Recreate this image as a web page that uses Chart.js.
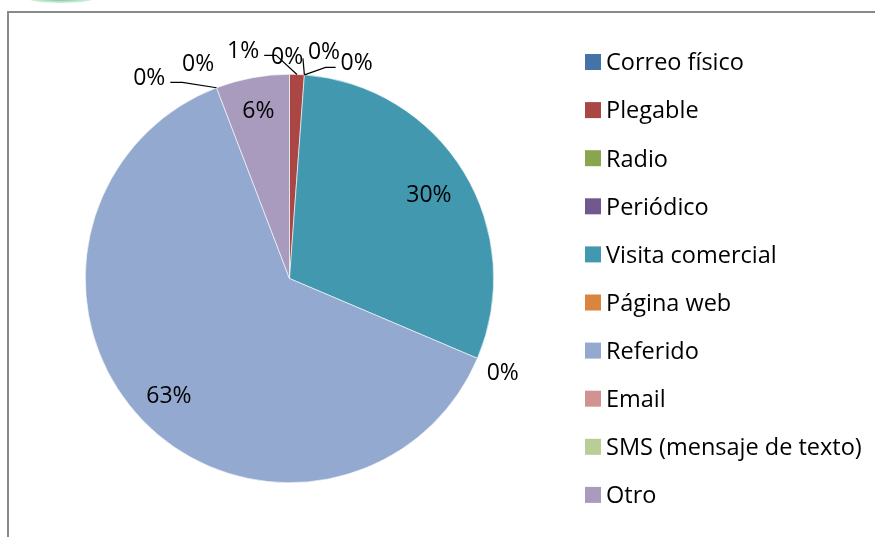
<!DOCTYPE html>
<html lang="es">
<head>
<meta charset="utf-8">
<title>Medio de contacto</title>
<script src="https://cdn.jsdelivr.net/npm/chart.js@4.4.1/dist/chart.umd.min.js"></script>
<style>
    html, body { margin: 0; padding: 0; background: #fff; }
    #contenedor { position: relative; width: 875px; height: 537px; overflow: hidden; }
    #marco {
        position: absolute; left: 7px; top: 11px; width: 890px; height: 560px;
        border-top: 2px solid #898989; border-left: 2px solid #898989;
    }
    #logo {
        position: absolute; left: 26px; top: -8px; width: 70px; height: 11px; border-radius: 50%;
        background: radial-gradient(ellipse at center, rgba(46, 160, 90, 0.95) 0%, rgba(120, 205, 150, 0.5) 55%, rgba(255, 255, 255, 0) 100%);
    }
    #grafico { position: absolute; left: 0; top: 0; width: 875px; height: 537px; }
</style>
</head>
<body>
<div id="contenedor">
    <div id="logo"></div>
    <div id="marco"></div>
    <div id="grafico"><canvas id="tortaMedios"></canvas></div>
</div>
<script>
const categorias = [
    'Correo físico', 'Plegable', 'Radio', 'Periódico', 'Visita comercial',
    'Página web', 'Referido', 'Email', 'SMS (mensaje de texto)', 'Otro'
];
const respuestas = [0, 1, 0, 0, 26, 0, 54, 0, 0, 5];
const colores = [
    '#4572A7', '#AA4643', '#89A54E', '#71588F', '#4198AF',
    '#DB843D', '#93A9CF', '#D19392', '#B9CD96', '#A99BBD'
];

const FUENTE = '"Open Sans", "Liberation Sans", sans-serif';
const TAM_FUENTE = 23;
const TAM_LEYENDA = 23.5;

// ubicacion de cada etiqueta: angulo desde las 12 en sentido horario y distancia en radios
// (ang null = mitad de la porcion); guia indica de que lado sale la linea
const ubicaciones = [
    { ang: 359.4, dist: 1.093 },
    { ang: 348.55, dist: 1.145, guia: 'der', cola: 12 },
    { ang: 8.6, dist: 1.13, guia: 'izq', cola: 0, baja: 2 },
    { ang: 17.2, dist: 1.113, guia: 'izq', cola: 10 },
    { ang: null, dist: 0.80 },
    { ang: 113.65, dist: 1.14 },
    { ang: null, dist: 0.82 },
    { ang: 337.1, dist: 1.149 },
    { ang: 325.25, dist: 1.205, guia: 'der', cola: 12 },
    { ang: null, dist: 0.84 }
];

function porcentaje(valor) {
    const total = respuestas.reduce((a, b) => a + b, 0);
    return Math.round(valor / total * 100) + '%';
}

const etiquetasTorta = {
    id: 'etiquetasTorta',
    afterDatasetsDraw(chart) {
        const ctx = chart.ctx;
        const arcos = chart.getDatasetMeta(0).data;
        ctx.save();
        ctx.font = `${TAM_FUENTE}px ${FUENTE}`;
        ctx.fillStyle = '#000';
        ctx.strokeStyle = '#000';
        ctx.lineWidth = 1.2;
        ctx.textAlign = 'center';
        ctx.textBaseline = 'alphabetic';

        arcos.forEach((arco, i) => {
            const { x, y, startAngle, endAngle, outerRadius } = arco.getProps(
                ['x', 'y', 'startAngle', 'endAngle', 'outerRadius'], true);
            const u = ubicaciones[i];
            const medio = (startAngle + endAngle) / 2;
            const a = u.ang === null ? medio : (u.ang - 90) * Math.PI / 180;
            const lx = x + Math.cos(a) * outerRadius * u.dist;
            const ly = y + Math.sin(a) * outerRadius * u.dist;
            const texto = porcentaje(respuestas[i]);
            ctx.fillText(texto, lx, ly + TAM_FUENTE * 0.357);

            if (u.guia) {
                const ancho = ctx.measureText(texto).width;
                const angAncla = respuestas[i] > 0 ? medio : startAngle;
                const ax = x + Math.cos(angAncla) * outerRadius;
                const ay = y + Math.sin(angAncla) * outerRadius;
                const sentido = u.guia === 'der' ? 1 : -1;
                const sx = lx + sentido * (ancho / 2 + 5);
                const sy = ly + 6 + (u.baja || 0);
                ctx.beginPath();
                ctx.moveTo(sx, sy);
                ctx.lineTo(sx + sentido * u.cola, sy);
                ctx.lineTo(ax, ay);
                ctx.stroke();
            }
        });
        ctx.restore();
    }
};

const leyendaLateral = {
    id: 'leyendaLateral',
    afterDraw(chart) {
        const ctx = chart.ctx;
        const x0 = 585, y0 = 62, paso = 48.1, lado = 16;
        ctx.save();
        ctx.font = `${TAM_LEYENDA}px ${FUENTE}`;
        ctx.textAlign = 'left';
        ctx.textBaseline = 'alphabetic';
        chart.data.labels.forEach((nombre, i) => {
            const cy = y0 + i * paso;
            ctx.fillStyle = chart.data.datasets[0].backgroundColor[i];
            ctx.fillRect(x0, cy - lado / 2, lado, lado);
            ctx.fillStyle = '#000';
            ctx.fillText(nombre, x0 + 21, cy + TAM_LEYENDA * 0.357);
        });
        ctx.restore();
    }
};

new Chart(document.getElementById('tortaMedios'), {
    type: 'pie',
    data: {
        labels: categorias,
        datasets: [{
            data: respuestas,
            backgroundColor: colores,
            borderColor: '#ffffff',
            borderWidth: 0.6
        }]
    },
    options: {
        responsive: true,
        maintainAspectRatio: false,
        animation: false,
        layout: { padding: { left: 85, top: 74, right: 381, bottom: 54 } },
        plugins: {
            legend: { display: false },
            tooltip: { enabled: false }
        }
    },
    plugins: [etiquetasTorta, leyendaLateral]
});
</script>
</body>
</html>
